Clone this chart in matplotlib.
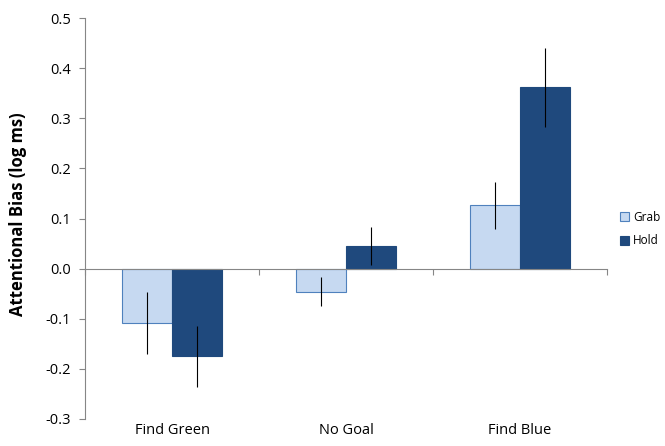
import numpy as np
import matplotlib.pyplot as plt

categories = ["Find Green", "No Goal", "Find Blue"]
grab = [-0.108, -0.046, 0.126]
grab_err = [0.062, 0.029, 0.046]
hold = [-0.175, 0.046, 0.362]
hold_err = [0.061, 0.038, 0.079]

plt.rcParams['font.family'] = ['Open Sans', 'DejaVu Sans']

fig = plt.figure(figsize=(6.65, 4.46), dpi=100)
ax = fig.add_axes([85 / 665, 1 - 419 / 446, (607 - 85) / 665, (419 - 18) / 446])

x = np.arange(len(categories))
w = 0.287
ax.bar(x - w / 2, grab, w, color='#C6D9F1', edgecolor='#4F81BD', linewidth=0.8, label='Grab', zorder=2)
ax.bar(x + w / 2, hold, w, color='#1F497D', edgecolor='#1F497D', linewidth=0.8, label='Hold', zorder=2)
ax.errorbar(x - w / 2, grab, yerr=grab_err, fmt='none', ecolor='black', elinewidth=0.8, capsize=0, zorder=3)
ax.errorbar(x + w / 2, hold, yerr=hold_err, fmt='none', ecolor='black', elinewidth=0.8, capsize=0, zorder=3)

ax.set_xlim(-0.5, len(categories) - 0.5)
ax.set_ylim(-0.3, 0.5)
yt = np.arange(-0.3, 0.51, 0.1)
ax.set_yticks(yt)
ax.set_yticklabels([f"{v:.1f}" for v in yt], fontsize=10.5)
ax.tick_params(axis='y', length=4, color='#868686', pad=6)
ax.set_ylabel("Attentional Bias (log ms)", fontsize=12, fontweight='bold')
ax.yaxis.set_label_coords(-0.112, 0.51)

for s in ['top', 'right']:
    ax.spines[s].set_visible(False)
ax.spines['left'].set_color('#868686')
ax.spines['bottom'].set_position(('data', 0))
ax.spines['bottom'].set_color('#868686')
ax.set_xticks(np.arange(len(categories) + 1) - 0.5)
ax.set_xticklabels([])
ax.tick_params(axis='x', length=4, color='#868686')

sec = ax.secondary_xaxis('bottom')
sec.set_xticks(x)
sec.set_xticklabels(categories, fontsize=10.5)
sec.tick_params(length=0, pad=3)
sec.spines['bottom'].set_visible(False)

fig.legend(loc='center left', bbox_to_anchor=(620 / 665, 1 - 229 / 446), frameon=False,
           fontsize=8.5, handlelength=0.8, handleheight=0.8, handletextpad=0.3, labelspacing=0.9,
           borderaxespad=0, borderpad=0)

fig.savefig("out.png", dpi=100)
